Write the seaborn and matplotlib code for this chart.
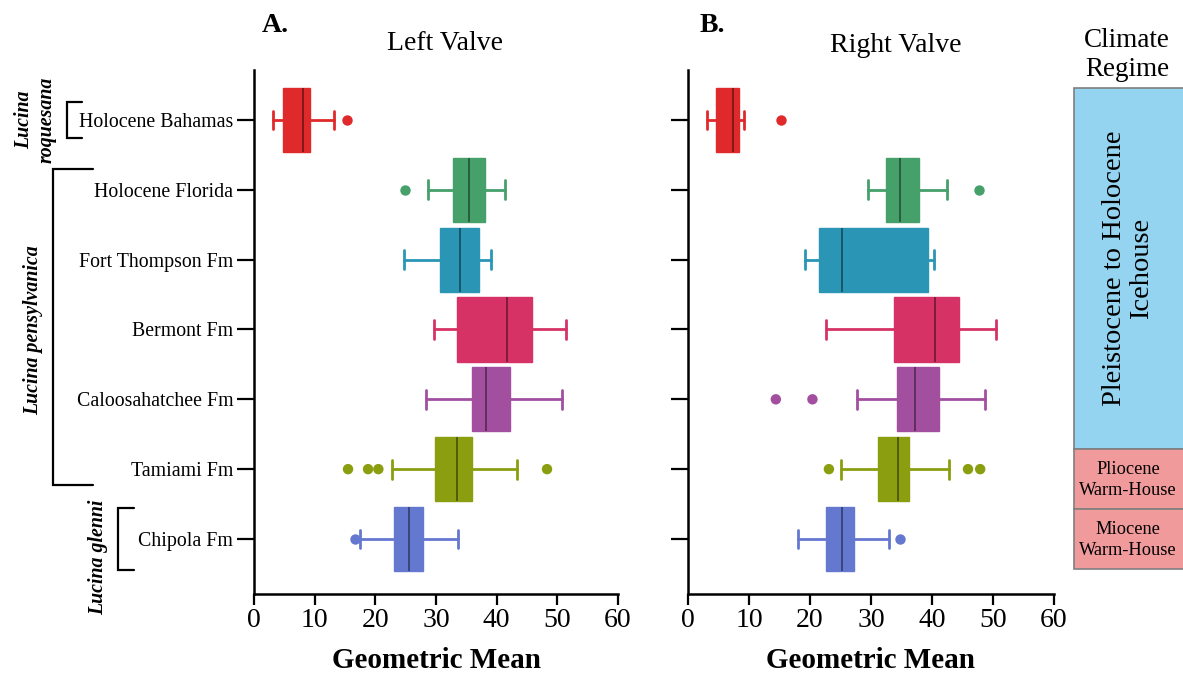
import numpy as np
import pandas as pd
import matplotlib
matplotlib.use("Agg")
import matplotlib.pyplot as plt
from matplotlib.lines import Line2D
from matplotlib.patches import Rectangle
from matplotlib.colors import to_rgb
import seaborn as sns

# ---------------- data ----------------
sites = ["Holocene Bahamas", "Holocene Florida", "Fort Thompson Fm", "Bermont Fm",
         "Caloosahatchee Fm", "Tamiami Fm", "Chipola Fm"]
site_colors = ["#E0292B", "#45A06A", "#2A95B5", "#D63266", "#A24FA0", "#8A9E0F", "#6478CF"]

# Left valve summary statistics (geometric mean)
left_whislo = [3.2, 28.6, 24.8, 29.6, 28.3, 22.7, 17.4]
left_q1     = [4.7, 32.8, 30.6, 33.5, 35.9, 29.8, 23.1]
left_med    = [8.0, 35.4, 34.0, 41.7, 38.2, 33.4, 25.5]
left_q3     = [9.2, 38.1, 37.1, 45.9, 42.2, 35.9, 27.9]
left_whishi = [13.2, 41.3, 39.0, 51.5, 50.7, 43.3, 33.7]
left_fliers = [[15.3], [24.9], [], [], [], [15.5, 18.8, 20.5, 48.3], [16.6]]

# Right valve summary statistics (geometric mean)
right_whislo = [3.1, 29.5, 19.2, 22.6, 27.7, 25.0, 18.0]
right_q1     = [4.6, 32.4, 21.5, 33.7, 34.2, 31.1, 22.6]
right_med    = [7.3, 34.8, 25.3, 40.5, 37.2, 34.4, 25.2]
right_q3     = [8.4, 37.8, 39.3, 44.5, 41.1, 36.3, 27.2]
right_whishi = [9.1, 42.5, 40.3, 50.5, 48.7, 42.8, 33.0]
right_fliers = [[15.3], [47.7], [], [], [14.4, 20.4], [23.1, 45.9, 47.9], [34.8]]

x_ticks = [0, 10, 20, 30, 40, 50, 60]

# ---------------- style ----------------
sns.set_theme(style="ticks")
plt.rcParams["font.family"] = ["Liberation Serif", "DejaVu Serif"]
plt.rcParams["axes.linewidth"] = 1.6
plt.rcParams["text.color"] = "black"
plt.rcParams["axes.labelcolor"] = "black"
plt.rcParams["xtick.color"] = "black"
plt.rcParams["ytick.color"] = "black"

W, H = 1183, 676
fig = plt.figure(figsize=(W / 100, H / 100), dpi=100)


def fx(px):
    return px / W


def fy(py):
    return 1 - py / H


def make_axes(x0, x1, y0=70, y1=594):
    return fig.add_axes([fx(x0), fy(y1), fx(x1) - fx(x0), fy(y0) - fy(y1)])


ax_l = make_axes(254, 618)
ax_r = make_axes(688, 1054)

palette = dict(zip(sites, site_colors))


def darker(c, f=0.55):
    r, g, b = to_rgb(c)
    return (r * f, g * f, b * f)


def draw_panel(ax, whislo, q1, med, q3, whishi, fliers, show_labels):
    # outliers via seaborn
    rows = [(s, v) for s, fl in zip(sites, fliers) for v in fl]
    df = pd.DataFrame(rows, columns=["site", "value"])
    sns.stripplot(data=df, x="value", y="site", order=sites, hue="site",
                  hue_order=sites, palette=palette, jitter=False, size=7.5,
                  linewidth=0, legend=False, ax=ax, zorder=3)
    for i, s in enumerate(sites):
        stats = [dict(whislo=whislo[i], q1=q1[i], med=med[i], q3=q3[i],
                      whishi=whishi[i], fliers=[])]
        c = site_colors[i]
        kw = dict(positions=[i], widths=0.92, capwidths=0.27, patch_artist=True,
                  showfliers=False, manage_ticks=False,
                  boxprops=dict(facecolor=c, edgecolor=c, linewidth=1.0),
                  medianprops=dict(color=darker(c), linewidth=1.3),
                  whiskerprops=dict(color=c, linewidth=2.0),
                  capprops=dict(color=c, linewidth=2.0))
        try:
            ax.bxp(stats, orientation="horizontal", **kw)
        except TypeError:
            ax.bxp(stats, vert=False, **kw)

    ax.set_xlim(0, 60)
    ax.set_ylim(6.788, -0.716)
    ax.set_xticks(x_ticks)
    ax.set_xticklabels([str(t) for t in x_ticks], fontsize=20)
    ax.set_yticks(range(len(sites)))
    if show_labels:
        ax.set_yticklabels(sites, fontsize=14.3)
    else:
        ax.set_yticklabels([])
    ax.set_xlabel("Geometric Mean", fontsize=21, fontweight="bold", labelpad=10,
                  color="black")
    ax.set_ylabel("")
    ax.tick_params(axis="y", length=12, width=1.6, pad=3, colors="black")
    ax.tick_params(axis="x", length=8, width=1.6, pad=2, colors="black")
    sns.despine(ax=ax)
    for sp in ("left", "bottom"):
        ax.spines[sp].set_color("black")
        ax.spines[sp].set_linewidth(1.8)
    ax.set_facecolor("white")


draw_panel(ax_l, left_whislo, left_q1, left_med, left_q3, left_whishi, left_fliers, True)
draw_panel(ax_r, right_whislo, right_q1, right_med, right_q3, right_whishi, right_fliers, False)

# panel letters and titles
fig.text(fx(262), fy(25), "A.", fontsize=20, fontweight="bold", ha="left", va="center")
fig.text(fx(445), fy(44), "Left Valve", fontsize=20, ha="center", va="center")
fig.text(fx(700), fy(25), "B.", fontsize=20, fontweight="bold", ha="left", va="center")
fig.text(fx(896), fy(46), "Right Valve", fontsize=20, ha="center", va="center")


# species brackets
def bracket(x, y0, y1, arm):
    pts_x = [fx(arm), fx(x), fx(x), fx(arm)]
    pts_y = [fy(y0), fy(y0), fy(y1), fy(y1)]
    fig.add_artist(Line2D(pts_x, pts_y, color="black", linewidth=1.6,
                          transform=fig.transFigure, solid_joinstyle="miter"))


bracket(67, 102, 138, 82)
bracket(53, 169, 485, 93)
bracket(118, 508, 570, 134)

sp_kw = dict(fontsize=14.3, fontweight="bold", fontstyle="italic", rotation=90,
             ha="center", va="center", linespacing=1.15)
fig.text(fx(35), fy(120), "Lucina\nroquesana", **sp_kw)
fig.text(fx(33), fy(330), "Lucina pensylvanica", **sp_kw)
fig.text(fx(98), fy(557), "Lucina glenni", **sp_kw)

# climate regime column
fig.text(fx(1127), fy(55), "Climate\nRegime", fontsize=19.5, ha="center", va="center",
         linespacing=1.2)
regimes = [(88, 449, "#94D4F0"), (449, 509, "#F09A9C"), (509, 569, "#F09A9C")]
for y0, y1, col in regimes:
    fig.add_artist(Rectangle((fx(1074), fy(y1)), fx(1190) - fx(1074), fy(y0) - fy(y1),
                             transform=fig.transFigure, facecolor=col,
                             edgecolor="#7F7F7F", linewidth=1.2))
fig.text(fx(1128), fy(268), "Pleistocene to Holocene\nIcehouse", fontsize=20.5,
         rotation=90, ha="center", va="center", linespacing=1.15)
fig.text(fx(1128), fy(480), "Pliocene\nWarm-House", fontsize=13.2, ha="center",
         va="center", linespacing=1.3)
fig.text(fx(1128), fy(540), "Miocene\nWarm-House", fontsize=13.2, ha="center",
         va="center", linespacing=1.3)

fig.savefig("out.png", dpi=100, facecolor="white")
